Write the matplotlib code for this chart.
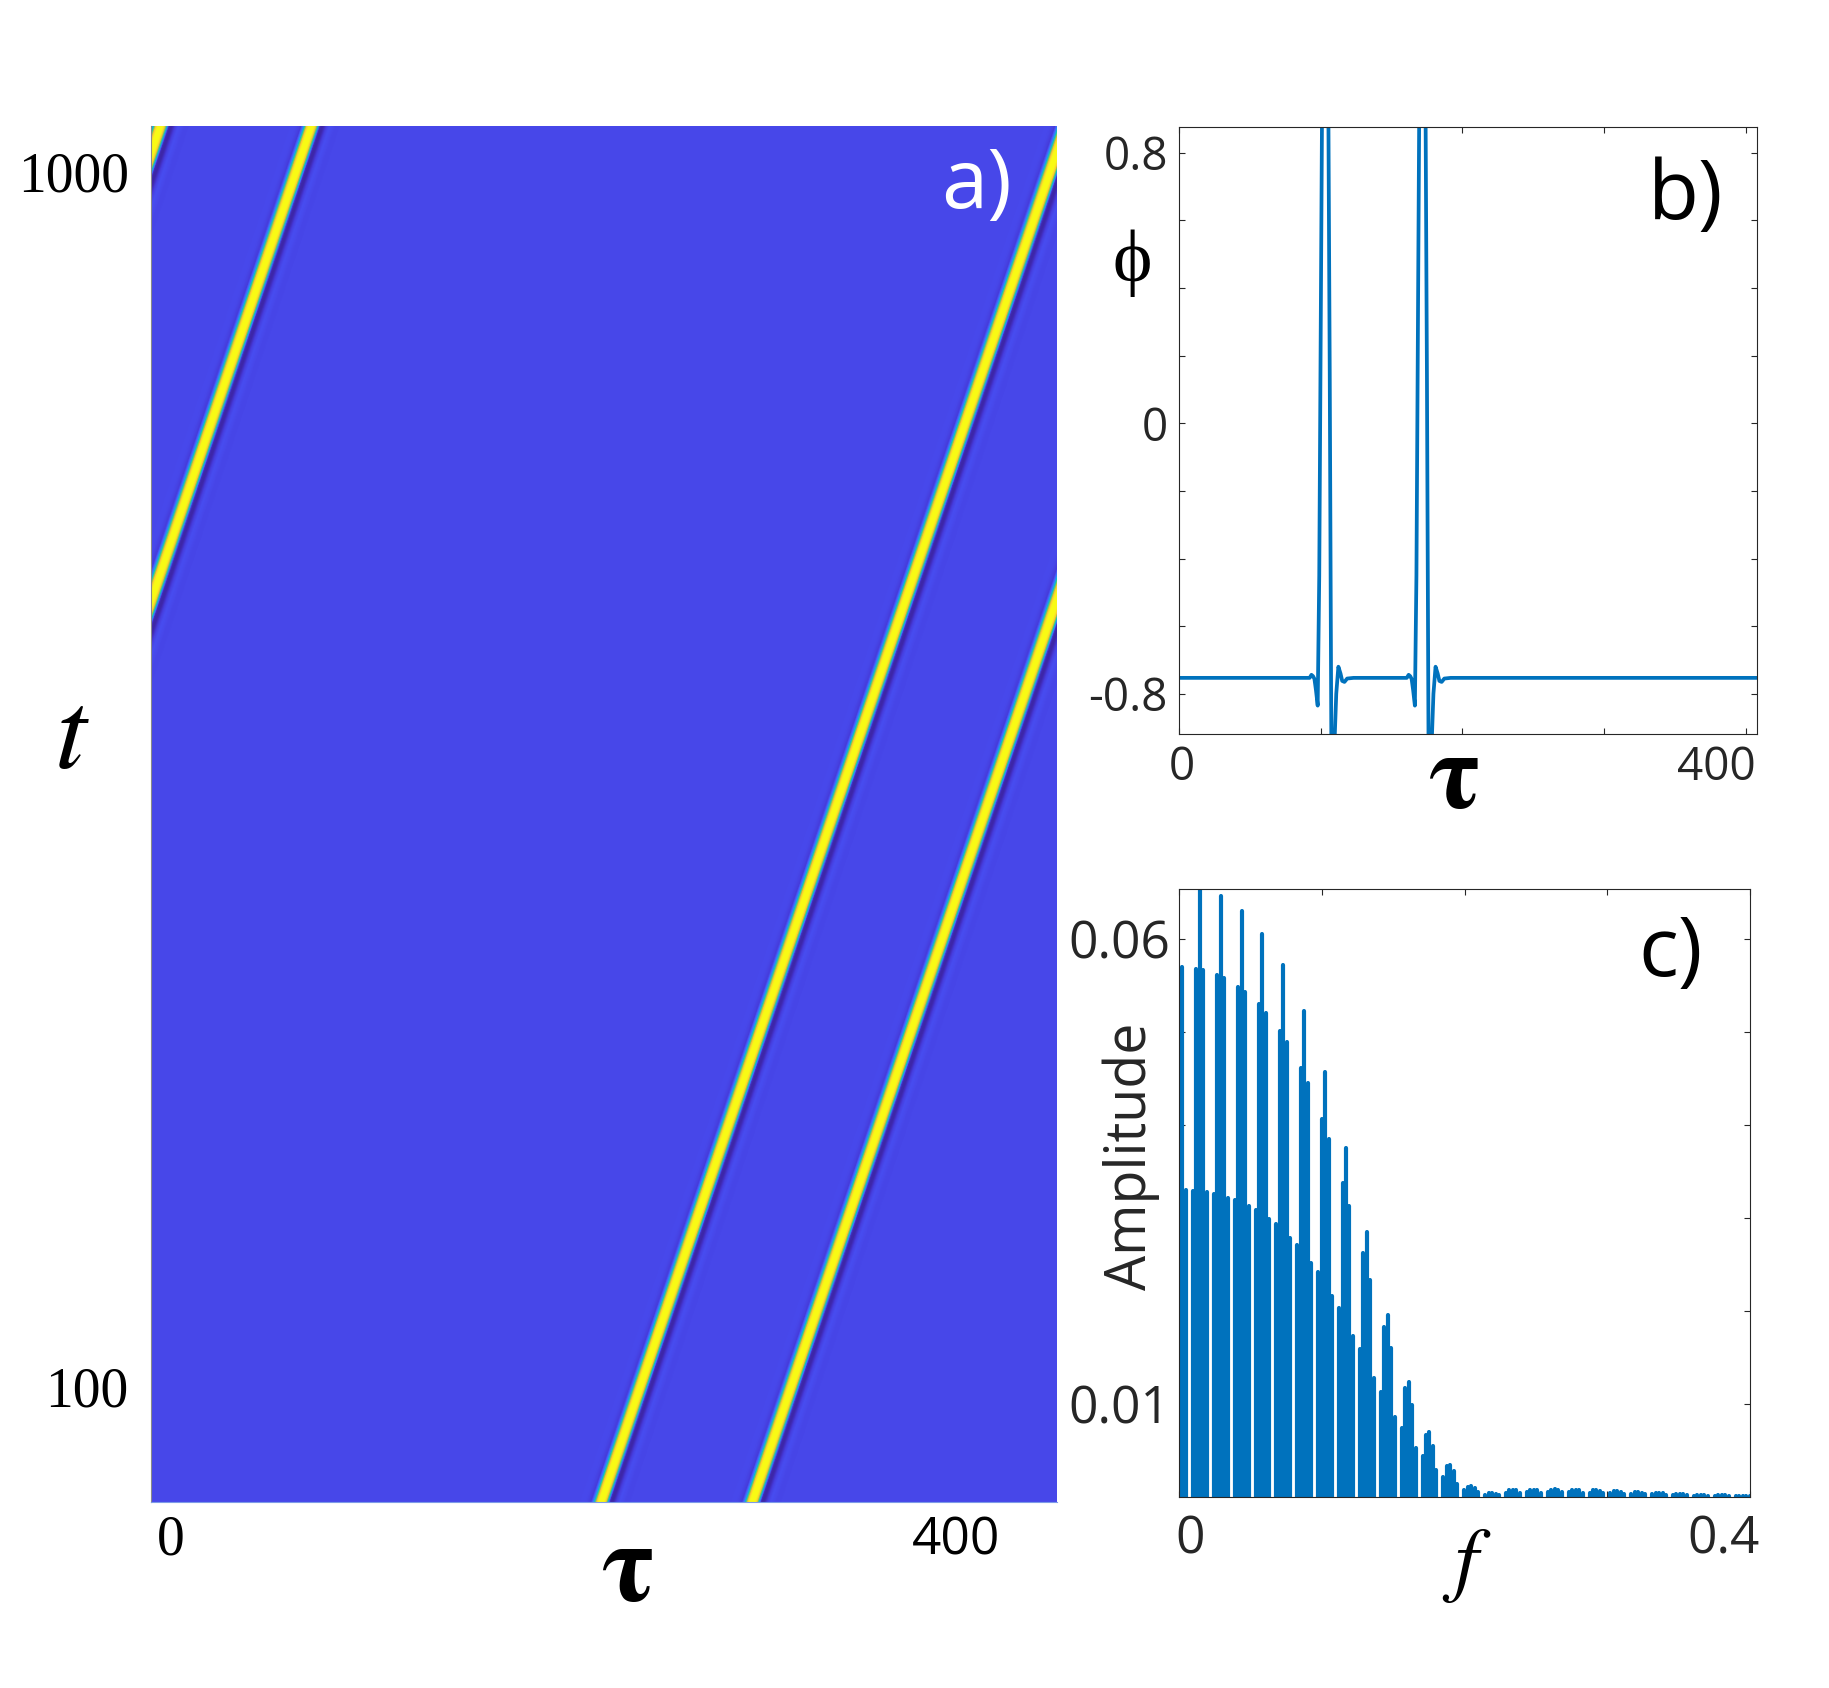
import numpy as np
import matplotlib.pyplot as plt
from matplotlib.colors import LinearSegmentedColormap

W, H = 1829, 1688
SERIF = ['Liberation Serif', 'DejaVu Serif']
STIX = ['STIXGeneral', 'DejaVu Serif']
SANS = ['Open Sans', 'DejaVu Sans']
BLUE = '#0072BD'
GREY = '#262626'

# one pulse: offset from pulse centre -> phi
pulse_off = [-20, -11.0, -9.7, -8.6, -7.6, -6.5, -5.3, -4.2, -3.2, -2.3, -1.5, 0.0,
             1.5, 2.3, 3.2, 4.3, 5.4, 6.7, 7.8, 9.3, 10.8, 12.0, 13.6, 15.5, 20]
pulse_phi = [-0.753, -0.753, -0.744, -0.748, -0.756, -0.79, -0.835, -0.45, 0.25, 0.875, 1.15, 1.3,
             1.15, 0.875, 0.15, -0.919, -1.05, -0.93, -0.8, -0.72, -0.74, -0.762, -0.765, -0.755, -0.753]
phi_rest = -0.753

# b) final profile
b_centres = [103.2, 171.8]
b_tau_max = 408

# a) space-time plot: pulse positions in the first row, drift (tau per unit t)
a_start = [219.5, 296.5]
a_drift = 0.232
a_tau_lim = (-10.0, 451.5)   # periodic in tau
a_t_lim = (15.0, 1034.0)

# c) spectrum, comb teeth of 6 FFT bins: outer, inner, spike, inner, outer, gap
f_bin = 0.002437
c_spike = [0, 0.0655, 0.0646, 0.0630, 0.0606, 0.0572, 0.0523, 0.0457, 0.0375, 0.0285,
           0.0196, 0.0124, 0.0070, 0.0034, 0.0012, 0.0004, 0.0008, 0.0008, 0.0009, 0.0008,
           0.0007, 0.0006, 0.0005, 0.0004, 0.0003, 0.00025, 0.0002, 0.00015]
c_in_l = [0, 0.0568, 0.0562, 0.0549, 0.0530, 0.0501, 0.0461, 0.0407, 0.0338, 0.0262,
          0.0183, 0.0117, 0.0067, 0.0033, 0.0011, 0.0004, 0.0007, 0.0008, 0.0008, 0.0007,
          0.0007, 0.0006, 0.0005, 0.0004, 0.0003, 0.00025, 0.0002, 0.00015]
c_in_r = [0.0570, 0.0567, 0.0558, 0.0543, 0.0521, 0.0489, 0.0445, 0.0385, 0.0313, 0.0233,
          0.0160, 0.0099, 0.0055, 0.0028, 0.0010, 0.0003, 0.0007, 0.0007, 0.0008, 0.0007,
          0.0006, 0.0005, 0.0004, 0.0004, 0.0003, 0.0002, 0.0002, 0.0001]
c_out_l = [0, 0.0329, 0.0326, 0.0319, 0.0309, 0.0294, 0.0271, 0.0242, 0.0203, 0.0159,
           0.0113, 0.0074, 0.0044, 0.0022, 0.0007, 0.0002, 0.0004, 0.0005, 0.0005, 0.0005,
           0.0004, 0.0004, 0.0003, 0.0003, 0.0002, 0.00015, 0.0001, 0.0001]
c_out_r = [0.0330, 0.0328, 0.0322, 0.0313, 0.0299, 0.0279, 0.0252, 0.0216, 0.0173, 0.0128,
           0.0086, 0.0053, 0.0029, 0.0014, 0.0005, 0.0002, 0.0004, 0.0004, 0.0005, 0.0004,
           0.0004, 0.0003, 0.0003, 0.0002, 0.0002, 0.00015, 0.0001, 0.0001]

# old-style parula
parula = LinearSegmentedColormap.from_list('parula', [
    (0.2422, 0.1504, 0.6603), (0.2706, 0.2147, 0.8364), (0.2813, 0.3006, 0.9414),
    (0.2699, 0.3892, 0.9906), (0.1963, 0.4847, 0.9892), (0.1687, 0.5703, 0.9359),
    (0.1248, 0.6459, 0.8883), (0.0297, 0.7082, 0.8163), (0.0964, 0.7500, 0.7120),
    (0.2161, 0.7843, 0.5923), (0.3909, 0.8029, 0.4354), (0.6174, 0.7876, 0.2612),
    (0.8203, 0.7498, 0.1535), (0.9728, 0.7298, 0.2394), (0.9892, 0.8136, 0.1885),
    (0.9597, 0.9135, 0.1423), (0.9769, 0.9839, 0.0805)])


def fx(x):
    return x / W


def fy(y):
    return 1 - y / H


fig = plt.figure(figsize=(W / 100, H / 100), dpi=100)

# ---------------- a) ----------------
axa = fig.add_axes([fx(151), fy(1501.7), fx(905.8), 1376 / H])
tau = np.linspace(*a_tau_lim, 924)
t = np.linspace(*a_t_lim, 1020)
period = a_tau_lim[1] - a_tau_lim[0]
field = np.full((t.size, tau.size), phi_rest)
for p0 in a_start:
    centre = p0 + a_drift * (t - a_t_lim[0])
    d = (tau[None, :] - centre[:, None] + period / 2) % period - period / 2
    field += np.interp(d, pulse_off, pulse_phi) - phi_rest
axa.imshow(field, origin='lower', extent=(*a_tau_lim, *a_t_lim), aspect='auto',
           cmap=parula, vmin=-1.0, vmax=1.2, interpolation='bilinear')
axa.set_xlim(*a_tau_lim)
axa.set_ylim(*a_t_lim)
axa.set_yticks([100, 1000])
axa.set_yticklabels(['100', '1000'], fontfamily=SERIF, fontsize=40)
axa.set_xticks([])
axa.tick_params(axis='y', length=0, pad=16)
for s in ['top', 'right']:
    axa.spines[s].set_visible(False)
axa.spines['left'].set_color('#8a8a8a')
axa.spines['bottom'].set_color('#7d9be8')
axa.annotate('0', xy=(0, 0), xycoords=axa.get_xaxis_transform(), xytext=(0, -53),
             textcoords='offset pixels', ha='center', va='baseline', family=SERIF, size=40)
axa.annotate('400', xy=(400, 0), xycoords=axa.get_xaxis_transform(), xytext=(0, -53),
             textcoords='offset pixels', ha='center', va='baseline', family=SANS, size=37)

# ---------------- b) ----------------
axb = fig.add_axes([fx(1179), fy(734), fx(578), 606.6 / H])
tau_b = [0] + [c + o for c in b_centres for o in pulse_off] + [b_tau_max]
phi_b = [phi_rest] + pulse_phi * len(b_centres) + [phi_rest]
axb.plot(tau_b, phi_b, color=BLUE, lw=2.7, solid_joinstyle='round')
axb.set_xlim(0, b_tau_max)
axb.set_ylim(-0.919, 0.875)
axb.set_xticks([0, 100, 200, 300, 400])
axb.set_xticklabels([])
axb.set_yticks([-0.8, -0.6, -0.4, -0.2, 0, 0.2, 0.4, 0.6, 0.8])
axb.set_yticklabels(['-0.8', '', '', '', '0', '', '', '', '0.8'], fontfamily=SANS)
axb.annotate('0', xy=(0, 0), xycoords=axb.get_xaxis_transform(), xytext=(3, -46),
             textcoords='offset pixels', ha='center', va='baseline', family=SANS,
             size=33, color=GREY)
axb.annotate('400', xy=(400, 0), xycoords=axb.get_xaxis_transform(), xytext=(-29, -46),
             textcoords='offset pixels', ha='center', va='baseline', family=SANS,
             size=33, color=GREY)

# ---------------- c) ----------------
axc = fig.add_axes([fx(1179), fy(1497), fx(571), 608 / H])
c_f, c_amp = [], []
for k in range(len(c_spike)):
    tooth = [c_out_l[k], c_in_l[k], c_spike[k], c_in_r[k], c_out_r[k], 0.0]
    for j, a in zip(range(-2, 4), tooth):
        c_f.append((6 * k + j) * f_bin)
        c_amp.append(a)
axc.vlines(c_f, 0, c_amp, colors=BLUE, lw=3.0, capstyle='round')
axc.set_xlim(0, 0.4)
axc.set_ylim(0, 0.0654)
axc.set_xticks([0, 0.1, 0.2, 0.3, 0.4])
axc.set_xticklabels([])
axc.set_yticks([0.01, 0.02, 0.03, 0.04, 0.05, 0.06])
axc.set_yticklabels(['0.01', '', '', '', '', '0.06'], fontfamily=SANS)
axc.annotate('0', xy=(0, 0), xycoords=axc.get_xaxis_transform(), xytext=(11, -56),
             textcoords='offset pixels', ha='center', va='baseline', family=SANS,
             size=37, color=GREY)
axc.annotate('0.4', xy=(0.4, 0), xycoords=axc.get_xaxis_transform(), xytext=(-26, -56),
             textcoords='offset pixels', ha='center', va='baseline', family=SANS,
             size=37, color=GREY)

for ax, size, pad in [(axb, 33, 8), (axc, 37, 6)]:
    ax.tick_params(direction='in', top=True, right=True, length=4.5, width=0.8,
                   color=GREY, labelcolor=GREY, labelsize=size, pad=pad)
    for s in ax.spines.values():
        s.set_color(GREY)
        s.set_linewidth(0.8)

# labels
fig.text(fx(70.8), fy(768), 't', family=STIX, style='italic', size=82,
         ha='center', va='baseline')
fig.text(fx(627), fy(1600), 'τ', family=STIX, weight='bold', size=80,
         ha='center', va='baseline')
fig.text(fx(1132), fy(281), 'ϕ', family=SERIF, size=54, ha='center', va='baseline')
fig.text(fx(1455), fy(807), 'τ', family=STIX, weight='bold', size=78,
         ha='center', va='baseline')
fig.text(fx(1131), fy(1156), 'Amplitude', family=SANS, size=40, rotation=90,
         ha='center', va='center', color=GREY)
fig.text(fx(1466), fy(1586), 'f', family=STIX, style='italic', size=60,
         ha='center', va='baseline')
fig.text(fx(977), fy(208), 'a)', family=SANS, size=60, color='white',
         ha='center', va='baseline')
fig.text(fx(1686), fy(219), 'b)', family=SANS, size=60, color='black',
         ha='center', va='baseline')
fig.text(fx(1671), fy(976), 'c)', family=SANS, size=60, color='black',
         ha='center', va='baseline')

fig.savefig('out.png', dpi=100)
